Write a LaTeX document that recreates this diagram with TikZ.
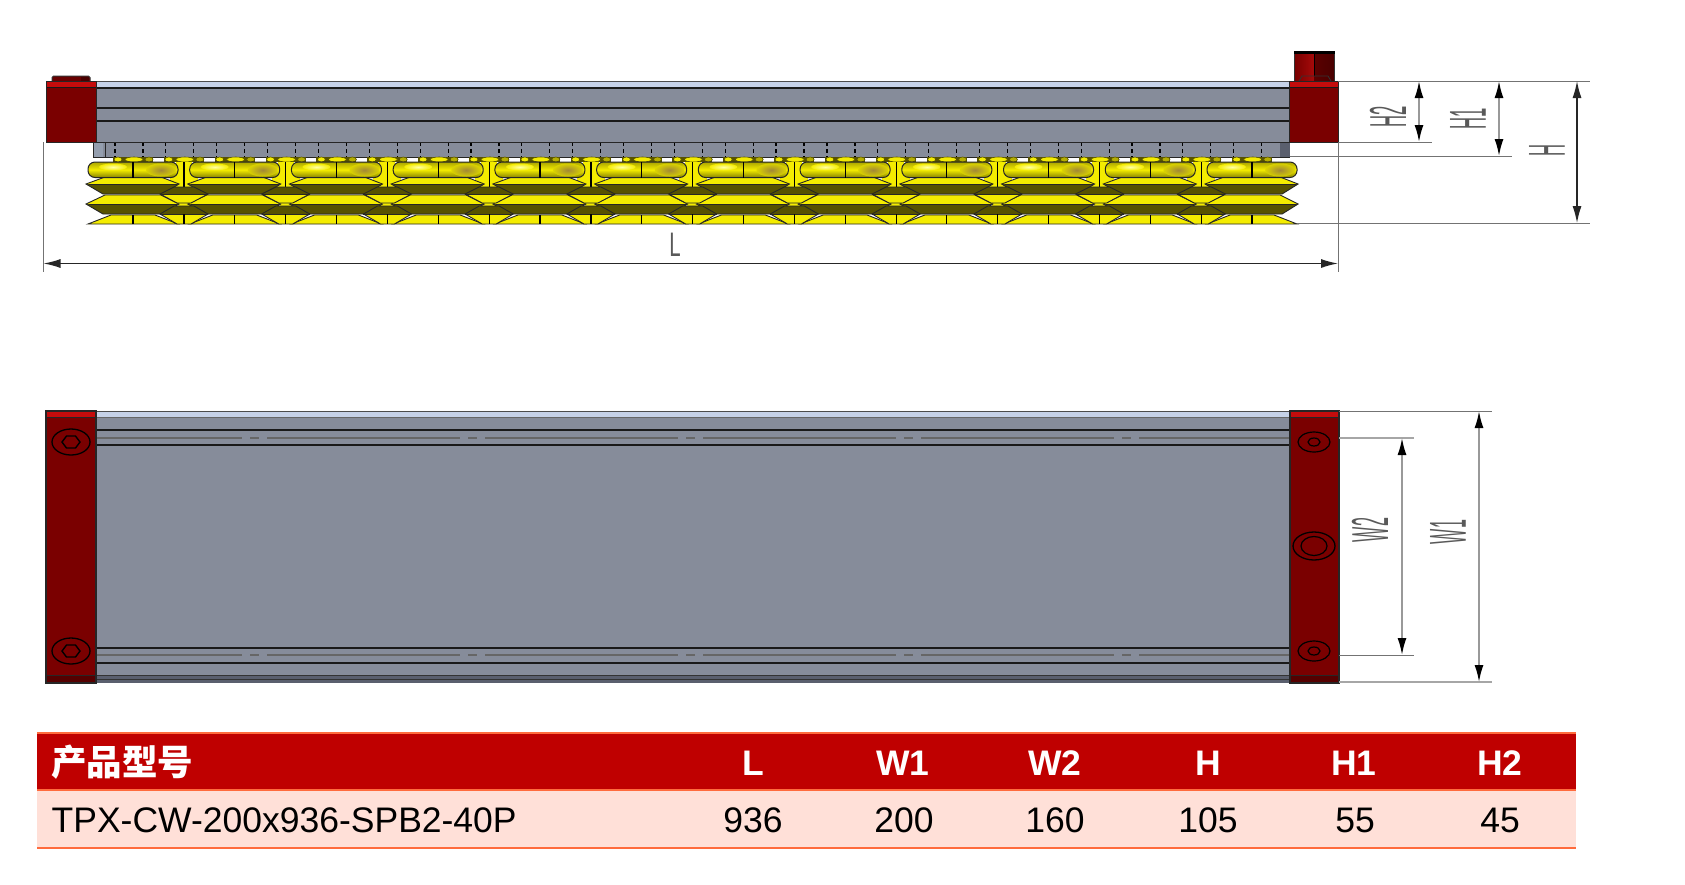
\documentclass[tikz,border=0pt]{standalone}
\usepackage{fontspec}
\usepackage{graphicx}
\setmainfont{Liberation Sans}
\newfontfamily\cjk{Noto Sans CJK SC}
\usetikzlibrary{arrows.meta}
\definecolor{capred}{HTML}{7A0000}
\definecolor{stripred}{HTML}{C40C0C}
\definecolor{bodygray}{HTML}{868C9A}
\definecolor{lightstrip}{HTML}{C6D2E8}
\definecolor{darkband}{HTML}{5A5F6E}
\definecolor{cupyellow}{HTML}{F4EC00}
\definecolor{cupdark}{HTML}{575200}
\definecolor{cupbrown}{HTML}{9A7E3C}
\definecolor{tablered}{HTML}{BF0000}
\definecolor{tablerow}{HTML}{FFE0D8}
\definecolor{tableline}{HTML}{FF6B3D}
\tikzset{
  x=1pt,y=-1pt,
  heavy/.style={draw=black!90,line width=1.5pt},
  thinblack/.style={draw=black!85,line width=.9pt},
  exline/.style={draw=black!55,line width=.9pt},
  dimdark/.style={draw=black!85,line width=1.3pt,{Latex[length=17pt,width=9pt]}-{Latex[length=17pt,width=9pt]}},
  dimlight/.style={draw=black!40,line width=1.8pt,{Latex[length=17pt,width=9pt,black]}-{Latex[length=17pt,width=9pt,black]}},
  dimtext/.style={text=black!65,inner sep=0pt,font=\fontsize{52}{54}\selectfont,rotate=90},
  headtext/.style={text=white,inner sep=0pt,font=\fontsize{35.5}{40}\selectfont\bfseries},
  celltext/.style={text=black,inner sep=0pt,font=\fontsize{35.5}{40}\selectfont},
}
\newcommand{\flarepart}[3]{%
  \fill[cupyellow] (-47,#1) -- (-28,#2) -- (28,#2) -- (46,#1) -- cycle;
  \fill[cupdark] (-47,#1) -- (-30,#3) -- (30,#3) -- (46,#1) -- cycle;
  \draw[thinblack] (-47,#1) -- (-28,#2) -- (28,#2) -- (46,#1) -- (30,#3) -- (-30,#3) -- cycle;
  \draw[thinblack] (-44,#1) -- (44,#1);
}
\newcommand{\diamondpart}[3]{%
  \fill[cupdark] (-24,#1) -- (-10,#2) -- (10,#2) -- (24,#1) -- cycle;
  \fill[cupyellow] (-24,#1) -- (-7,#3) -- (7,#3) -- (24,#1) -- cycle;
  \draw[thinblack] (-24,#1) -- (-10,#2) -- (10,#2) -- (24,#1) -- (7,#3) -- (-7,#3) -- cycle;
  \draw[thinblack] (-24,#1) -- (24,#1);
}
\begin{document}
\begin{tikzpicture}
\useasboundingbox[fill=white] (0,0) rectangle (1685,884);

% ---------- front view: lower strip
\fill[bodygray] (93,142) rectangle (1290,157);
\fill[black!25!lightstrip] (93,142) rectangle (103,157);
\fill[darkband] (1280,142) rectangle (1290,157);
\draw[thinblack] (93,157) -- (1290,157);
\draw[thinblack] (93,142) -- (93,157);
\draw[thinblack] (105,142) -- (105,157);
\foreach \i in {0,...,22}{
  \draw[black,line width=1.2pt,dash pattern=on 4pt off 3pt] ({115+50.85*\i},142) -- ({115+50.85*\i},157);
  \draw[black,line width=1.2pt,dash pattern=on 4pt off 3pt] ({143+50.85*\i},142) -- ({143+50.85*\i},157);
}
% nubs
\foreach \i in {0,...,22}{
  \begin{scope}[xshift={50.85*\i*1pt}]
    \fill[cupdark] (113,157) rectangle (153,162);
    \filldraw[fill=cupyellow,draw=cupdark,line width=.6pt] (118,159.5) ellipse [x radius=4pt,y radius=2.5pt];
    \filldraw[fill=cupyellow,draw=cupdark,line width=.6pt] (134,159.5) ellipse [x radius=9pt,y radius=2.5pt];
    \filldraw[fill=cupyellow!60!cupdark,draw=cupdark,line width=.6pt] (149,159.5) ellipse [x radius=4pt,y radius=2.5pt];
  \end{scope}
}
% connectors between cups
\foreach \i in {0,...,10}{
  \begin{scope}[xshift={(184+101.73*\i)*1pt}]
    \fill[cupyellow] (-8,162) rectangle (8,190);
    \fill[cupyellow] (-14,176) rectangle (14,190);
    \draw[black,line width=1.2pt] (0,162) -- (0,187);
    \fill[cupyellow] (-6,202) rectangle (6,207);
  \end{scope}
}
% flares
\foreach \i in {0,...,11}{
  \begin{scope}[xshift={(133+101.73*\i)*1pt}]
    \flarepart{184}{177}{194}
    \flarepart{204}{195}{214}
    \fill[cupyellow] (-45,224) -- (-22,215) -- (22,215) -- (45,224) -- cycle;
    \draw[thinblack] (-45,224) -- (-22,215) -- (22,215) -- (45,224) -- cycle;
    \draw[black,line width=1.2pt] (0,215) -- (0,224);
  \end{scope}
}
% diamonds
\foreach \i in {0,...,10}{
  \begin{scope}[xshift={(184+101.73*\i)*1pt}]
    \diamondpart{194}{187}{203}
    \diamondpart{214}{206}{224}
    \draw[black,line width=1.2pt] (0,214) -- (0,224);
  \end{scope}
}
% cup bodies
\foreach \i in {0,...,11}{
  \begin{scope}[xshift={(133+101.73*\i)*1pt}]
    \shade[top color=cupyellow!70!black,bottom color=cupyellow!55!black,middle color=cupyellow,rounded corners=7pt] (-45,162) rectangle (45,177.5);
    \shade[inner color=cupbrown,outer color=cupyellow!90!black,opacity=.9] (28,170) ellipse [x radius=15pt,y radius=6.5pt];
    \shade[inner color=yellow!35,outer color=cupyellow] (-20,167) ellipse [x radius=14pt,y radius=3.5pt];
    \draw[black!85,line width=1pt,rounded corners=7pt] (-45,162) rectangle (45,177.5);
    \draw[black,line width=1.2pt] (0,162) -- (0,177.5);
  \end{scope}
}
% knobs
\filldraw[fill=capred!85!black,draw=black!80,line width=1pt,rounded corners=1.5pt] (52,81) -- (52,76) -- (90,76) -- (90,81);
\fill[capred!60!black] (81,77) rectangle (89,81);
\shade[left color=capred,right color=stripred!85!black] (1295,54) rectangle (1314,81);
\shade[left color=capred!75!black,right color=capred!60!black] (1314,54) rectangle (1334,81);
\fill[black] (1294,50.5) rectangle (1335,53.5);
\draw[black!80,line width=1pt] (1294,54) -- (1294,81) (1334.5,54) -- (1334.5,81);
\draw[black,line width=1.2pt] (1314.5,54) -- (1314.5,76);
\draw[black!80,line width=.8pt] (1299,81) -- (1302,76) -- (1328,76) -- (1331,81);

% ---------- front view: body and caps
\fill[bodygray] (96,81) rectangle (1289,142);
\fill[lightstrip] (96,82) rectangle (1289,87);
\draw[black!70,line width=1pt] (96,81) -- (1289,81);
\draw[heavy] (96,88) -- (1289,88) (96,108) -- (1289,108) (96,121) -- (1289,121);
\draw[black!85,line width=1pt] (96,142) -- (1289,142);
\fill[capred] (46,81) rectangle (96,142);
\fill[stripred] (46,81) rectangle (96,87);
\draw[black!90,line width=1.2pt] (46,87.5) -- (96,87.5);
\draw[black!85,line width=1pt] (46,81) rectangle (96,142);
\fill[capred] (1289,81) rectangle (1338,142);
\fill[stripred] (1289,81) rectangle (1338,87);
\draw[black!90,line width=1.2pt] (1289,87.5) -- (1338,87.5);
\draw[black!85,line width=1pt] (1289,81) rectangle (1338,142);

% ---------- plan view
\fill[bodygray] (96,411) rectangle (1290,683);
\fill[lightstrip] (96,411.5) rectangle (1290,416.5);
\draw[black!70,line width=1pt] (96,411) -- (1290,411);
\draw[black!60,line width=1pt] (96,417) -- (1290,417);
\draw[heavy] (96,430) -- (1290,430) (96,445) -- (1290,445) (96,648) -- (1290,648) (96,663) -- (1290,663);
\draw[black!60,line width=1.5pt] (96,438) -- (1290,438) (96,655) -- (1290,655);
\foreach \i in {0,...,4}{
  \draw[bodygray,line width=3pt] ({242+218*\i},438) -- ({250+218*\i},438) ({259+218*\i},438) -- ({267+218*\i},438);
  \draw[bodygray,line width=3pt] ({242+218*\i},655) -- ({250+218*\i},655) ({259+218*\i},655) -- ({267+218*\i},655);
}
\fill[darkband] (96,675) rectangle (1290,683);
\draw[black!80,line width=1pt] (96,675) -- (1290,675);
\draw[black!80,line width=1pt] (96,679) -- (1290,679);
% caps
\fill[capred] (46,411) rectangle (96,683);
\fill[stripred] (46,411) rectangle (96,416.5);
\fill[capred!70!black] (46,675) rectangle (96,683);
\draw[black!85,line width=1pt] (46,417) -- (96,417) (46,675) -- (96,675);
\draw[black!85,line width=1.1pt] (46,411) rectangle (96,683);
\fill[capred] (1290,411) rectangle (1339,683);
\fill[stripred] (1290,411) rectangle (1339,416.5);
\fill[capred!70!black] (1290,675) rectangle (1339,683);
\draw[black!85,line width=1pt] (1290,417) -- (1339,417) (1290,675) -- (1339,675);
\draw[black!85,line width=1.1pt] (1290,411) rectangle (1339,683);
% bolts
\foreach \yy in {442,651}{
  \draw[black,line width=1.3pt] (71,\yy) ellipse [x radius=19pt,y radius=13pt];
  \draw[black,line width=1.4pt] (62,\yy) -- (66.5,\yy-6) -- (75.5,\yy-6) -- (80,\yy) -- (75.5,\yy+6) -- (66.5,\yy+6) -- cycle;
  \draw[black,line width=1.2pt] (1314,\yy) ellipse [x radius=16pt,y radius=10pt];
  \draw[black,line width=1.2pt] (1314,\yy) ellipse [x radius=6pt,y radius=4pt];
}
\draw[black,line width=1.3pt] (1314,546) ellipse [x radius=21pt,y radius=14pt];
\draw[black,line width=1.2pt] (1314,546) ellipse [x radius=13pt,y radius=9.5pt];

% ---------- dimensions, front view
\coordinate (lTop) at (43.5,142);
\coordinate (lEnd) at (43.5,272);
\coordinate (rTop) at (1338,142);
\coordinate (rEnd) at (1338,272);
\coordinate (lA) at (43.5,263.5);
\coordinate (rA) at (1338,263.5);
\coordinate (topFrom) at (1338,81);
\coordinate (h2Top) at (1432,81);
\coordinate (h1Top) at (1512,81);
\coordinate (hTop) at (1590,81);
\coordinate (h2From) at (1338,142);
\coordinate (h2Ext) at (1432,142);
\coordinate (h1From) at (1290,156);
\coordinate (h1Ext) at (1512,156);
\coordinate (hFrom) at (1297,223);
\coordinate (hExt) at (1590,223);
\coordinate (h2a) at (1419,81);
\coordinate (h2b) at (1419,142);
\coordinate (h1a) at (1499,81);
\coordinate (h1b) at (1499,156);
\coordinate (ha) at (1577,81);
\coordinate (hb) at (1577,223);
\draw[exline] (lTop) -- (lEnd);
\draw[exline] (rTop) -- (rEnd);
\draw[exline] (topFrom) -- (hTop);
\draw[exline] (h2From) -- (h2Ext);
\draw[exline] (h1From) -- (h1Ext);
\draw[exline] (hFrom) -- (hExt);
\draw[dimdark] (lA) -- (rA);
\draw[dimlight] (h2a) -- (h2b);
\draw[dimlight] (h1a) -- (h1b);
\draw[dimdark] (ha) -- (hb);
\node[dimtext] (tH2) at (1388,117) {\scalebox{.32}[1]{H2}};
\node[dimtext] (tH1) at (1468,119) {\scalebox{.32}[1]{H1}};
\node[dimtext] (tH) at (1547,150) {\scalebox{.32}[1]{H}};
\node[text=black!65,inner sep=0pt,font=\fontsize{34}{36}\selectfont] (tL) at (675,245) {\scalebox{.6}[1]{L}};

% ---------- dimensions, plan view
\coordinate (w1From) at (1339,411);
\coordinate (w1Ext) at (1492,411);
\coordinate (w1FromB) at (1339,682);
\coordinate (w1ExtB) at (1492,682);
\coordinate (w2From) at (1339,438);
\coordinate (w2Ext) at (1414,438);
\coordinate (w2FromB) at (1339,655);
\coordinate (w2ExtB) at (1414,655);
\coordinate (w1a) at (1479,411);
\coordinate (w1b) at (1479,682);
\coordinate (w2a) at (1402,438);
\coordinate (w2b) at (1402,655);
\draw[exline] (w1From) -- (w1Ext);
\draw[exline,draw=black!35,line width=1.2pt] (w1FromB) -- (w1ExtB);
\draw[exline,draw=black!35,line width=1.2pt] (w2From) -- (w2Ext);
\draw[exline] (w2FromB) -- (w2ExtB);
\draw[dimlight] (w1a) -- (w1b);
\draw[dimlight] (w2a) -- (w2b);
\node[dimtext] (tW2) at (1370,530) {\scalebox{.31}[1]{W2}};
\node[dimtext] (tW1) at (1448,532) {\scalebox{.31}[1]{W1}};

% ---------- table
\fill[tablered] (37,733) rectangle (1576,790);
\fill[tablerow] (37,790) rectangle (1576,848);
\draw[tableline,line width=1.6pt] (37,733) -- (1576,733);
\draw[tableline,line width=1.6pt] (37,790) -- (1576,790);
\draw[tableline,line width=1.6pt] (37,848) -- (1576,848);
\node[text=white,inner sep=0pt,anchor=west,font=\fontsize{35.5}{38}\selectfont\cjk\bfseries] (hModel) at (51,762) {产品型号};
\node[headtext] (hL) at (753,763) {L};
\node[headtext] (hW1) at (903,763) {W1};
\node[headtext] (hW2) at (1055,763) {W2};
\node[headtext] (hH) at (1208,763) {H};
\node[headtext] (hH1) at (1354,763) {H1};
\node[headtext] (hH2) at (1500,763) {H2};
\node[celltext,anchor=west] (cModel) at (51.5,820.5) {TPX-CW-200x936-SPB2-40P};
\node[celltext] (cL) at (753,820.5) {936};
\node[celltext] (cW1) at (904,820.5) {200};
\node[celltext] (cW2) at (1055,820.5) {160};
\node[celltext] (cH) at (1208,820.5) {105};
\node[celltext] (cH1) at (1355,820.5) {55};
\node[celltext] (cH2) at (1500,820.5) {45};
\end{tikzpicture}
\end{document}
